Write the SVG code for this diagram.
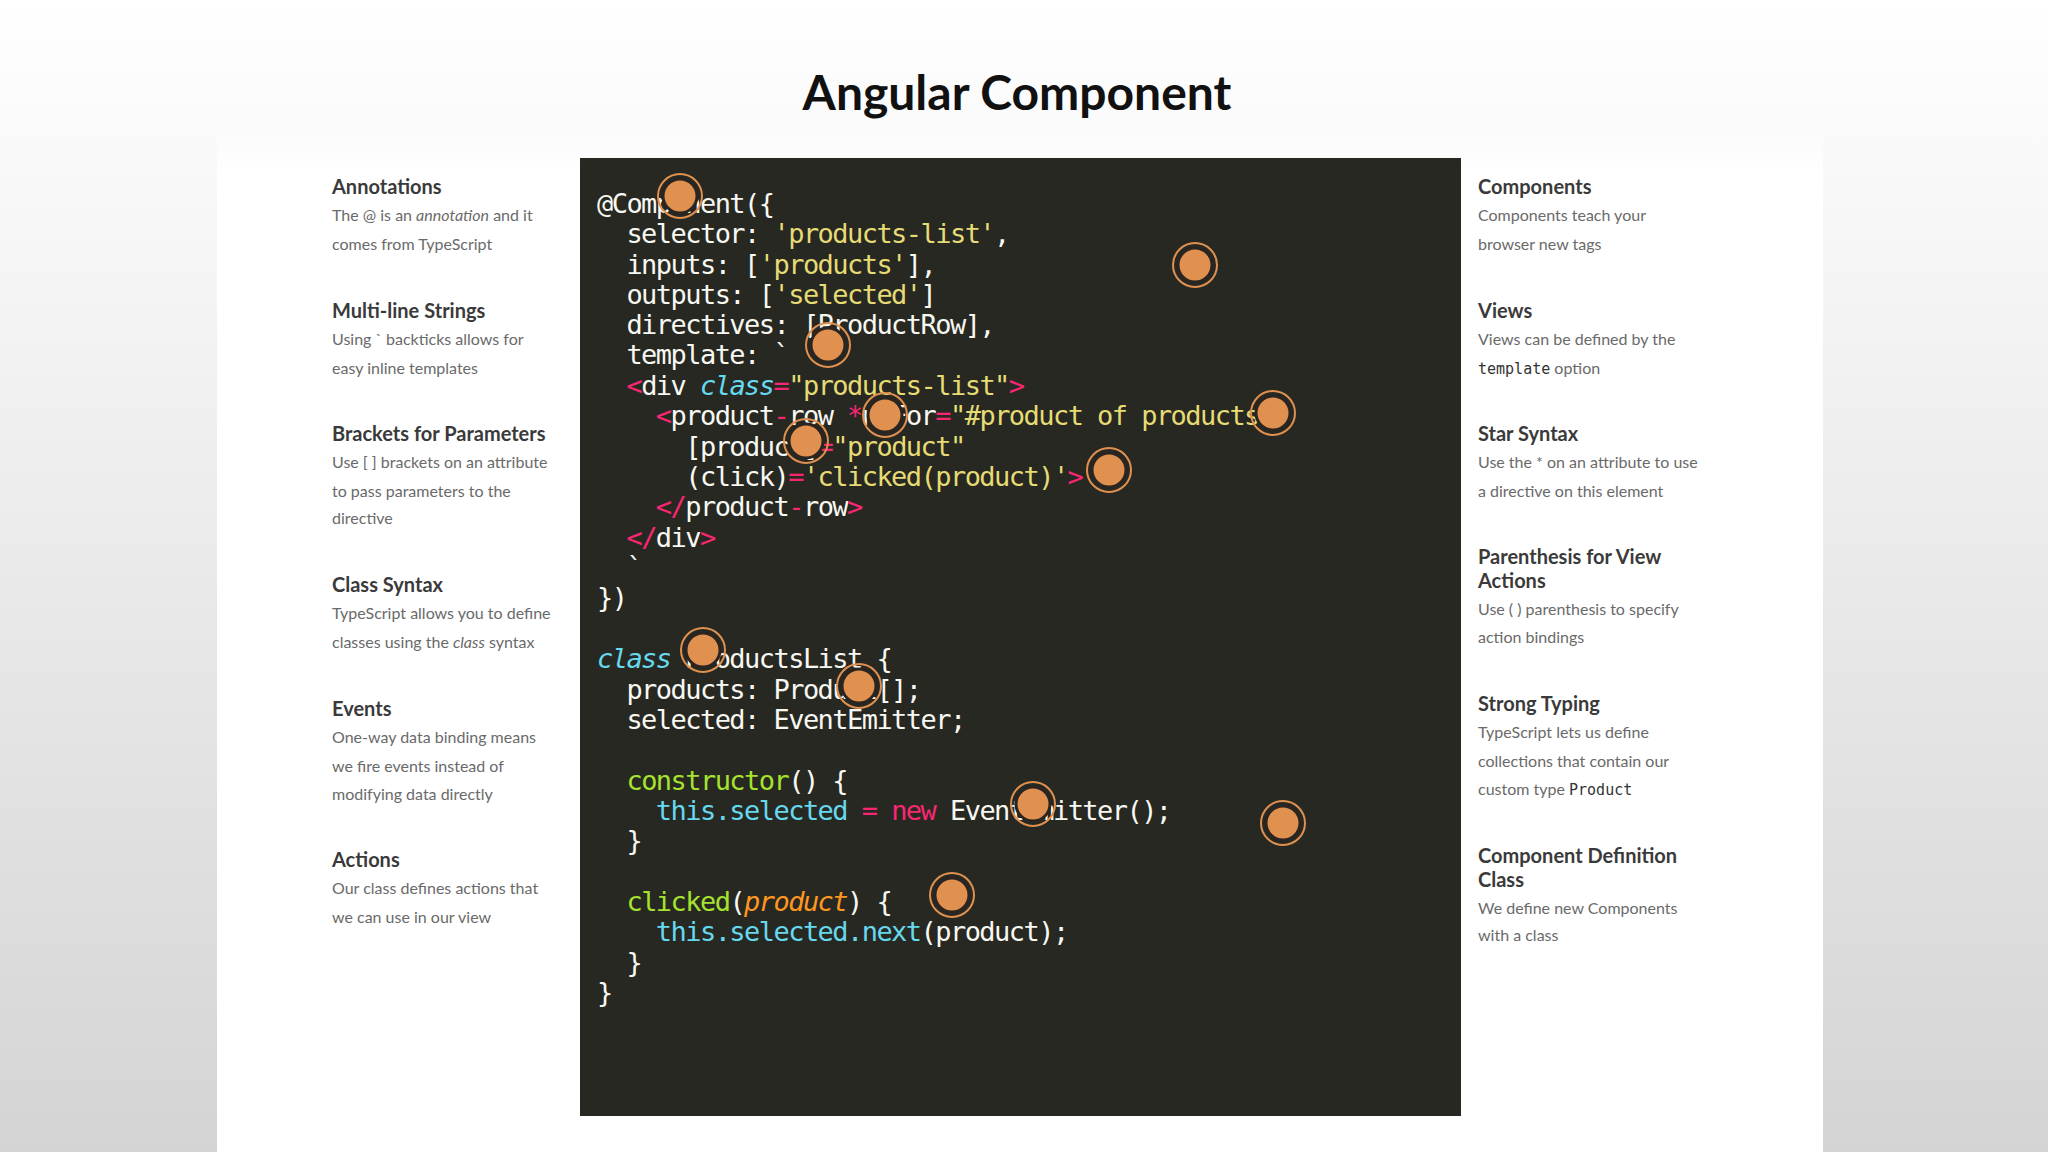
<svg xmlns="http://www.w3.org/2000/svg" width="2048" height="1152" viewBox="0 0 2048 1152">
<defs>
<linearGradient id="bg" x1="0" y1="0" x2="0" y2="1"><stop offset="0" stop-color="#ffffff"/><stop offset="1" stop-color="#d4d4d4"/></linearGradient>
<linearGradient id="panel" x1="0" y1="0" x2="0" y2="1"><stop offset="0" stop-color="#ffffff" stop-opacity="0"/><stop offset="0.04" stop-color="#ffffff"/><stop offset="1" stop-color="#ffffff"/></linearGradient>
<g id="dot"><circle r="22" fill="none" stroke="#e0904f" stroke-width="2"/><circle r="17" fill="#e0904f" stroke="#2a2520" stroke-width="3"/></g>
</defs>
<style>
.h{font-family:Lato,"Open Sans",sans-serif;font-weight:bold;font-size:20px;fill:#3a3a3a}
.d{font-family:Lato,"Open Sans",sans-serif;font-size:16px;fill:#6a6a6a}
.m{font-family:"DejaVu Sans Mono",monospace}
.c{font-family:"DejaVu Sans Mono",monospace;font-size:27px;letter-spacing:-1.55px;fill:#f8f8f2;white-space:pre}
.y{fill:#e6db74}.p{fill:#f92672}.b{fill:#66d9ef}.g{fill:#a6e22e}.o{fill:#fd971f}.i{font-style:italic}
</style>
<rect width="2048" height="1152" fill="url(#bg)"/>
<rect x="217" y="128" width="1606" height="1024" fill="url(#panel)"/>
<text x="1017" y="110" text-anchor="middle" font-family="Lato,'Open Sans',sans-serif" font-size="48" font-weight="bold" fill="#111">Angular Component</text>
<g id="code">
<rect x="580" y="158" width="881" height="958" fill="#272822"/>
<text class="c" x="597" y="213">@Component({</text>
<text class="c" x="597" y="243">  selector: <tspan class="y">'products-list'</tspan>,</text>
<text class="c" x="597" y="274">  inputs: [<tspan class="y">'products'</tspan>],</text>
<text class="c" x="597" y="304">  outputs: [<tspan class="y">'selected'</tspan>]</text>
<text class="c" x="597" y="334">  directives: [ProductRow],</text>
<text class="c" x="597" y="364">  template: `</text>
<text class="c" x="597" y="395">  <tspan class="p">&lt;</tspan>div <tspan class="b i">class</tspan><tspan class="p">=</tspan><tspan class="y">"products-list"</tspan><tspan class="p">&gt;</tspan></text>
<text class="c" x="597" y="425">    <tspan class="p">&lt;</tspan>product<tspan class="p">-</tspan>row <tspan class="p">*</tspan>ngFor<tspan class="p">=</tspan><tspan class="y">"#product of products"</tspan></text>
<text class="c" x="597" y="456">      [product]<tspan class="p">=</tspan><tspan class="y">"product"</tspan></text>
<text class="c" x="597" y="486">      (click)<tspan class="p">=</tspan><tspan class="y">'clicked(product)'</tspan><tspan class="p">&gt;</tspan></text>
<text class="c" x="597" y="516">    <tspan class="p">&lt;/</tspan>product<tspan class="p">-</tspan>row<tspan class="p">&gt;</tspan></text>
<text class="c" x="597" y="547">  <tspan class="p">&lt;/</tspan>div<tspan class="p">&gt;</tspan></text>
<text class="c" x="597" y="577">  `</text>
<text class="c" x="597" y="607">})</text>
<text class="c" x="597" y="668"><tspan class="b i">class</tspan> ProductsList {</text>
<text class="c" x="597" y="699">  products: Product[];</text>
<text class="c" x="597" y="729">  selected: EventEmitter;</text>
<text class="c" x="597" y="790">  <tspan class="g">constructor</tspan>() {</text>
<text class="c" x="597" y="820">    <tspan class="b">this.selected</tspan> <tspan class="p">=</tspan> <tspan class="p">new</tspan> EventEmitter();</text>
<text class="c" x="597" y="850">  }</text>
<text class="c" x="597" y="911">  <tspan class="g">clicked</tspan>(<tspan class="o i">product</tspan>) {</text>
<text class="c" x="597" y="941">    <tspan class="b">this.selected.next</tspan>(product);</text>
<text class="c" x="597" y="972">  }</text>
<text class="c" x="597" y="1002">}</text>
</g>
<g id="dots">
<use href="#dot" x="680" y="196"/><use href="#dot" x="1195" y="265"/><use href="#dot" x="828" y="345"/>
<use href="#dot" x="1273" y="413"/><use href="#dot" x="885" y="415"/><use href="#dot" x="806" y="441"/>
<use href="#dot" x="1109" y="470"/><use href="#dot" x="703" y="650"/><use href="#dot" x="859" y="686"/>
<use href="#dot" x="1033" y="804"/><use href="#dot" x="1283" y="823"/><use href="#dot" x="952" y="895"/>
</g>
<g id="left">
<text class="h" x="332" y="194">Annotations</text>
<text class="d" x="332" y="221">The @ is an <tspan font-style="italic">annotation</tspan> and it</text>
<text class="d" x="332" y="250">comes from TypeScript</text>
<text class="h" x="332" y="318">Multi-line Strings</text>
<text class="d" x="332" y="345">Using ` backticks allows for</text>
<text class="d" x="332" y="374">easy inline templates</text>
<text class="h" x="332" y="441">Brackets for Parameters</text>
<text class="d" x="332" y="468">Use [ ] brackets on an attribute</text>
<text class="d" x="332" y="497">to pass parameters to the</text>
<text class="d" x="332" y="524">directive</text>
<text class="h" x="332" y="592">Class Syntax</text>
<text class="d" x="332" y="619">TypeScript allows you to define</text>
<text class="d" x="332" y="648">classes using the <tspan font-style="italic">class</tspan> syntax</text>
<text class="h" x="332" y="716">Events</text>
<text class="d" x="332" y="743">One-way data binding means</text>
<text class="d" x="332" y="772">we fire events instead of</text>
<text class="d" x="332" y="800">modifying data directly</text>
<text class="h" x="332" y="867">Actions</text>
<text class="d" x="332" y="894">Our class defines actions that</text>
<text class="d" x="332" y="923">we can use in our view</text>
</g>
<g id="right">
<text class="h" x="1478" y="194">Components</text>
<text class="d" x="1478" y="221">Components teach your</text>
<text class="d" x="1478" y="250">browser new tags</text>
<text class="h" x="1478" y="318">Views</text>
<text class="d" x="1478" y="345">Views can be defined by the</text>
<text class="d" x="1478" y="374"><tspan class="m" fill="#333" font-size="15">template</tspan> option</text>
<text class="h" x="1478" y="441">Star Syntax</text>
<text class="d" x="1478" y="468">Use the * on an attribute to use</text>
<text class="d" x="1478" y="497">a directive on this element</text>
<text class="h" x="1478" y="564">Parenthesis for View</text>
<text class="h" x="1478" y="588">Actions</text>
<text class="d" x="1478" y="615">Use ( ) parenthesis to specify</text>
<text class="d" x="1478" y="643">action bindings</text>
<text class="h" x="1478" y="711">Strong Typing</text>
<text class="d" x="1478" y="738">TypeScript lets us define</text>
<text class="d" x="1478" y="767">collections that contain our</text>
<text class="d" x="1478" y="795">custom type <tspan class="m" fill="#333" font-size="15">Product</tspan></text>
<text class="h" x="1478" y="863">Component Definition</text>
<text class="h" x="1478" y="887">Class</text>
<text class="d" x="1478" y="914">We define new Components</text>
<text class="d" x="1478" y="941">with a class</text>
</g>
</svg>
